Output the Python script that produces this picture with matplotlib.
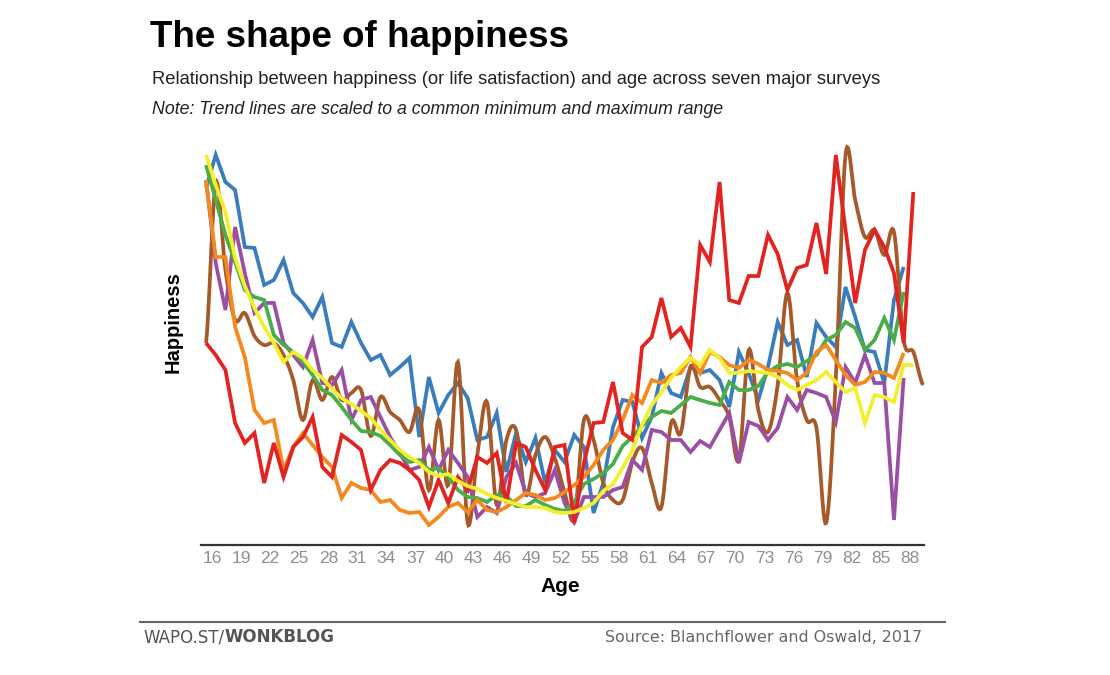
import matplotlib
matplotlib.use("Agg")
import matplotlib.pyplot as plt
import numpy as np
from matplotlib.transforms import ScaledTranslation

# scaled happiness (no units shown on the chart), one value per age starting at 16
blue = [34.2, 37.5, 34.8, 34.0, 28.3, 28.2, 24.5, 25.0, 27.0, 23.7,
        22.7, 21.3, 23.3, 18.7, 18.3, 20.8, 18.7, 17.0, 17.5, 15.5,
        16.3, 17.2, 9.3, 15.3, 11.7, 13.5, 14.7, 13.2, 9.0, 9.3,
        11.7, 5.8, 9.7, 6.8, 9.2, 4.7, 8.0, 6.8, 9.5, 8.3,
        1.7, 4.7, 10.3, 13.0, 12.8, 9.2, 11.3, 15.7, 13.7, 13.3,
        16.3, 15.7, 16.0, 15.0, 12.3, 17.8, 15.7, 13.0, 16.3, 20.8,
        18.5, 19.0, 15.3, 20.7, 19.3, 18.3, 24.3, 21.3, 18.0, 17.8,
        14.7, 23.0, 26.3]

red = [18.7, 17.5, 16.0, 10.7, 8.7, 9.7, 4.7, 8.7, 5.3, 8.3,
       9.3, 11.3, 6.3, 5.3, 9.5, 8.8, 8.0, 4.0, 6.0, 7.0,
       6.7, 6.0, 5.0, 2.3, 5.0,
       2.7, 5.3, 4.0, 7.3, 6.7, 7.7, 2.7, 8.7, 8.3, 6.0,
       4.0, 8.3, 8.5, 0.7, 6.7, 10.7, 10.8, 14.8, 9.7, 9.0,
       18.3, 19.3, 23.2, 19.3, 20.2, 18.3, 28.5, 26.8, 34.8, 23.0,
       22.7, 25.4, 25.4, 29.5, 27.6, 24.0, 26.2, 26.5, 30.7, 25.6,
       37.5, 30.0, 22.7, 28.0, 30.0, 28.3, 25.7, 18.7, 33.8]

orange = [35.0, 27.3, 27.3, 20.3, 17.3, 12.0, 10.7, 11.0, 6.0, 8.3,
          9.7, 8.5, 7.3, 6.3, 3.2, 4.7, 4.2, 4.0, 2.8, 3.0,
          2.0, 1.7, 1.8, 0.5, 1.3, 2.3, 2.7, 1.8, 3.0, 2.0,
          1.8, 2.3, 3.0, 3.7, 3.5, 3.0, 3.2, 3.8, 4.5, 5.3,
          6.5, 8.0, 9.0, 11.0, 13.5, 12.7, 15.0, 14.7, 15.5, 15.7,
          17.3, 15.7, 17.8, 17.3, 16.5, 16.2, 17.0, 16.6, 16.0, 15.9,
          15.7, 15.0, 15.7, 17.8, 18.5, 17.0, 15.5, 14.5, 14.8, 15.8,
          15.7, 15.2, 17.7]

green = [36.5, 33.0, 29.5, 26.8, 24.0, 23.3, 23.0, 19.5, 18.5, 17.8,
         16.8, 15.5, 14.0, 13.5, 12.3, 11.0, 9.9, 9.8, 9.4, 8.5,
         7.5, 6.8, 7.0, 6.0, 6.2, 5.3, 4.0, 3.3, 3.2, 2.8,
         3.5, 3.4, 2.4, 2.4, 3.0, 2.5, 2.1, 1.9, 2.8, 4.6,
         5.1, 5.7, 6.6, 8.4, 9.3, 10.4, 11.3, 11.9, 11.7, 12.5,
         13.3, 13.0, 12.7, 12.5, 14.8, 14.0, 14.0, 14.4, 15.8, 16.4,
         16.6, 16.3, 16.9, 17.5, 19.0, 19.5, 20.8, 20.2, 18.0, 19.0,
         21.2, 19.0, 23.8]

purple = [35.0, 26.7, 22.0, 30.3, 25.7, 21.7, 22.7, 22.7, 18.7, 17.5,
          16.3, 19.0, 14.7, 14.5, 16.0, 11.0, 13.0, 13.3, 11.3, 9.3,
          7.7, 6.0, 6.3, 8.3, 6.0,
          8.0, 6.7, 5.3, 1.3, 2.3, 1.7, 5.3, 6.7, 3.7, 3.3,
          3.7, 6.0, 2.7, 0.8, 3.3, 3.3, 3.3, 4.0, 4.3, 7.0,
          6.0, 10.0, 9.8, 9.0, 9.0, 7.8, 8.9, 8.3, 10.0, 11.7,
          6.7, 10.8, 10.4, 9.0, 10.2, 13.3, 12.0, 14.0, 13.7, 13.3,
          10.8, 16.3, 14.7, 17.5, 14.7, 14.7, 1.0, 15.2]

yellow = [37.5, 34.5, 31.8, 27.2, 24.4, 22.2, 20.3, 18.7, 16.8, 17.8,
          17.2, 16.0, 15.2, 14.1, 13.2, 12.6, 11.9, 11.2, 10.0, 9.0,
          8.0, 7.3, 6.7, 5.8, 5.4, 5.6, 4.9, 4.4, 4.1, 3.6,
          3.2, 2.9, 2.6, 2.3, 2.3, 2.2, 1.8, 1.7, 1.8, 2.2,
          2.7, 3.9, 4.6, 6.2, 8.0, 10.5, 12.5, 13.8, 15.2, 16.3,
          17.2, 16.5, 18.0, 17.2, 15.7, 15.7, 15.9, 15.8, 15.7, 15.3,
          14.5, 14.0, 14.5, 15.0, 15.8, 14.8, 13.8, 14.2, 10.7, 13.5,
          13.3, 12.8, 16.5, 16.5]

brown = [18.7, 34.7, 26.0, 21.0, 21.7, 19.4, 18.5, 18.7, 17.5, 15.0,
         11.0, 15.0, 13.0, 15.3, 13.0, 13.7, 14.0, 9.4, 13.3, 11.8,
         11.0, 9.8, 12.0, 4.0, 11.0, 4.5, 16.8, 0.7, 7.5, 12.8,
         2.5, 9.0, 10.0, 3.5, 7.5, 9.3, 7.2, 3.8, 1.2, 11.0,
         9.0, 4.7, 3.0, 3.0, 6.8, 8.2, 4.7, 2.3, 10.7, 9.7,
         16.3, 14.3, 14.3, 13.0, 11.3, 7.0, 18.0, 12.0, 9.8, 14.5,
         23.7, 15.0, 11.0, 10.2, 0.7, 15.2, 37.5, 33.0, 29.3, 30.0,
         27.5, 29.8, 19.0, 17.8, 14.5]

tick_ages = list(range(16, 89, 3))

SANS = ["Liberation Sans", "DejaVu Sans"]


def catmull_rom(x, y, n=12):
    # smooth curve through every point, like the brown trend line
    p = np.concatenate([[y[0]], y, [y[-1]]])
    xs, ys = [], []
    t = np.linspace(0, 1, n, endpoint=False)
    for i in range(len(y) - 1):
        p0, p1, p2, p3 = p[i], p[i + 1], p[i + 2], p[i + 3]
        ys.append(0.5 * (2 * p1 + (-p0 + p2) * t + (2 * p0 - 5 * p1 + 4 * p2 - p3) * t ** 2
                         + (-p0 + 3 * p1 - 3 * p2 + p3) * t ** 3))
        xs.append(x[i] + t * (x[i + 1] - x[i]))
    xs.append([x[-1]])
    ys.append([y[-1]])
    return np.concatenate(xs), np.concatenate(ys)


W, H = 1110, 675
fig = plt.figure(figsize=(W / 100, H / 100), dpi=100)
ax = fig.add_axes([201 / W, 1 - 545 / H, 723 / W, 395 / H])

series = [
    (blue, "#3a7dbd", False),
    (brown, "#a65a2a", True),
    (purple, "#9a4fa5", False),
    (green, "#4aad48", False),
    (orange, "#f5891e", False),
    (red, "#e2231f", False),
    (yellow, "#f3ef2e", False),
]

for vals, col, smooth in series:
    ages = np.arange(16, 16 + len(vals))
    if smooth:
        xs, ys = catmull_rom(ages, np.array(vals))
    else:
        xs, ys = ages, vals
    ax.plot(xs, ys, color=col, lw=2.7, solid_joinstyle="miter", solid_capstyle="butt",
            clip_on=False)

ax.set_xlim(15.48, 90.1)
ax.set_ylim(-1.5, 38)
for s in ["top", "right", "left"]:
    ax.spines[s].set_visible(False)
ax.spines["bottom"].set_linewidth(1.6)
ax.spines["bottom"].set_color("#333333")
ax.set_yticks([])
ax.set_xticks(tick_ages)
ax.set_xticklabels([str(a) for a in tick_ages], color="#8f8f8f", fontsize=12.5, family=SANS)
ax.tick_params(axis="x", length=0, pad=4)
for lab in ax.get_xticklabels():
    lab.set_transform(lab.get_transform() + ScaledTranslation(6 / 100, 0, fig.dpi_scale_trans))

ax.set_xlabel("Age", fontsize=15, fontweight="bold", family=SANS)
ax.xaxis.set_label_coords((560 - 201) / 723, -(587 - 545) / 395)
ax.xaxis.label.set_va("center")

fig.text(173 / W, 1 - 322 / H, "Happiness", rotation=90, ha="center", va="center",
         fontsize=14.5, fontweight="bold", family=SANS)

# header
fig.text(150 / W, 1 - 47 / H, "The shape of happiness", fontsize=26.5, fontweight="bold",
         family=SANS, va="baseline")
fig.text(152 / W, 1 - 84 / H,
         "Relationship between happiness (or life satisfaction) and age across seven major surveys",
         fontsize=13.2, family=SANS, va="baseline", color="#222222")
fig.text(152 / W, 1 - 114 / H,
         "Note: Trend lines are scaled to a common minimum and maximum range",
         fontsize=12.8, style="italic", family=SANS, va="baseline", color="#222222")

# footer
fig.add_artist(plt.Line2D([140 / W, 945 / W], [1 - 622 / H, 1 - 622 / H], color="#666666", lw=1.5))
t1 = fig.text(143 / W, 1 - 637 / H, "WAPO.ST/", fontsize=12, color="#555555", va="center",
              family="DejaVu Sans")
fig.canvas.draw()
bb = t1.get_window_extent(fig.canvas.get_renderer())
fig.text(bb.x1 / W, 1 - 637 / H, "WONKBLOG", fontsize=12, color="#555555", va="center",
         fontweight="bold", family="DejaVu Sans")
fig.text(922 / W, 1 - 637 / H, "Source: Blanchflower and Oswald, 2017", fontsize=11.4,
         color="#666666", va="center", ha="right", family="DejaVu Sans")

fig.savefig("out.png", dpi=100)
